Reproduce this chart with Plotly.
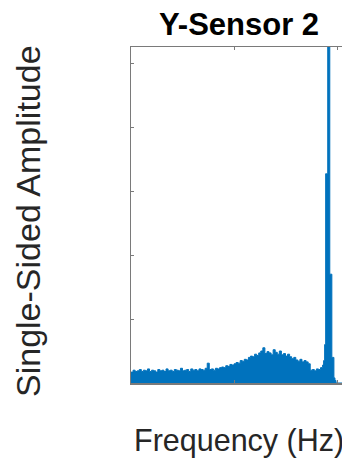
import plotly.graph_objects as go

# Frequency bins (Hz) and single-sided amplitude
freq = list(range(0, 94)) + [93.5, 94, 94.5, 95, 95.5, 96, 96.5, 97, 97.5, 98, 98.5, 99, 99.5, 100, 102.5]
freq = sorted(set(freq))
amp = [
    0.17, 0.20, 0.18, 0.19, 0.21, 0.18, 0.20, 0.19, 0.22, 0.18,
    0.20, 0.19, 0.17, 0.21, 0.19, 0.20, 0.18, 0.22, 0.19, 0.20,
    0.18, 0.21, 0.20, 0.19, 0.23, 0.19, 0.20, 0.21, 0.18, 0.22,
    0.20, 0.21, 0.19, 0.22, 0.21, 0.20, 0.23, 0.31, 0.21, 0.22,
    0.20, 0.23, 0.22, 0.24, 0.25, 0.24, 0.27, 0.26, 0.29, 0.28,
    0.30, 0.32, 0.31, 0.35, 0.34, 0.37, 0.36, 0.40, 0.42, 0.41,
    0.45, 0.43, 0.47, 0.50, 0.55, 0.46, 0.49, 0.47, 0.44, 0.52,
    0.48, 0.45, 0.50, 0.44, 0.46, 0.42, 0.45, 0.41, 0.38, 0.40,
    0.36, 0.34, 0.37, 0.33, 0.35, 0.33, 0.30, 0.20, 0.21, 0.19,
    0.22, 0.21, 0.24, 0.28,
    0.35, 0.60, 3.27, 3.27, 10.0, 10.0, 1.70, 1.70, 0.40, 0.40,
    0.08, 0.04, 0.0, 0.0, 0.0,
]

title_text = "Y-Sensor 2"
x_label = "Frequency (Hz)"
y_label = "Single-Sided Amplitude"

W, H = 342, 464
L, T, B = 131, 47, 81
plot_w = W - L
plot_h = H - T - B

blue = "#0072BD"
axis_col = "#7a7a7a"
text_col = "#262626"
font_fam = "Liberation Sans, Arial, sans-serif"

fig = go.Figure()
fig.add_trace(go.Scatter(
    x=freq, y=amp, mode="lines", line=dict(color=blue, width=1, shape="hv"),
    fill="tozeroy", fillcolor=blue, hoverinfo="skip", showlegend=False,
    cliponaxis=True,
))

fig.update_layout(
    width=W, height=H,
    margin=dict(l=L, r=0, t=T, b=B, pad=0),
    paper_bgcolor="white", plot_bgcolor="white",
    showlegend=False,
    title=dict(
        text="<b>" + title_text + "</b>",
        font=dict(family=font_fam, size=31, color="black"),
        xref="paper", x=(239 - L) / plot_w, xanchor="center",
        yref="container", y=1 - 24 / H, yanchor="middle",
    ),
    xaxis=dict(
        range=[0, plot_w / 2.06], showgrid=False, zeroline=False,
        showline=True, linecolor=axis_col, linewidth=1.5, mirror="ticks",
        ticks="inside", ticklen=3, tickcolor=axis_col, dtick=50, tick0=0,
        showticklabels=False, fixedrange=True,
    ),
    yaxis=dict(
        range=[0, 5.25], showgrid=False, zeroline=False,
        showline=True, linecolor=axis_col, linewidth=1.5, mirror=False,
        ticks="inside", ticklen=3, tickcolor=axis_col, dtick=1, tick0=0,
        showticklabels=False, fixedrange=True,
    ),
    annotations=[
        dict(text=x_label, xref="paper", yref="paper",
             x=(239 - L) / plot_w, y=-(440 - (T + plot_h)) / plot_h,
             xanchor="center", yanchor="middle", showarrow=False,
             font=dict(family=font_fam, size=30.5, color=text_col)),
        dict(text=y_label, xref="paper", yref="paper", textangle=-90,
             x=(28 - L) / plot_w, y=((T + plot_h) - 221) / plot_h,
             xanchor="center", yanchor="middle", showarrow=False,
             font=dict(family=font_fam, size=34, color=text_col)),
    ],
)

fig.write_html(
    "out.html",
    config={"displayModeBar": False, "staticPlot": True},
    post_script="document.body.style.margin='0';document.body.style.overflow='hidden';",
)
